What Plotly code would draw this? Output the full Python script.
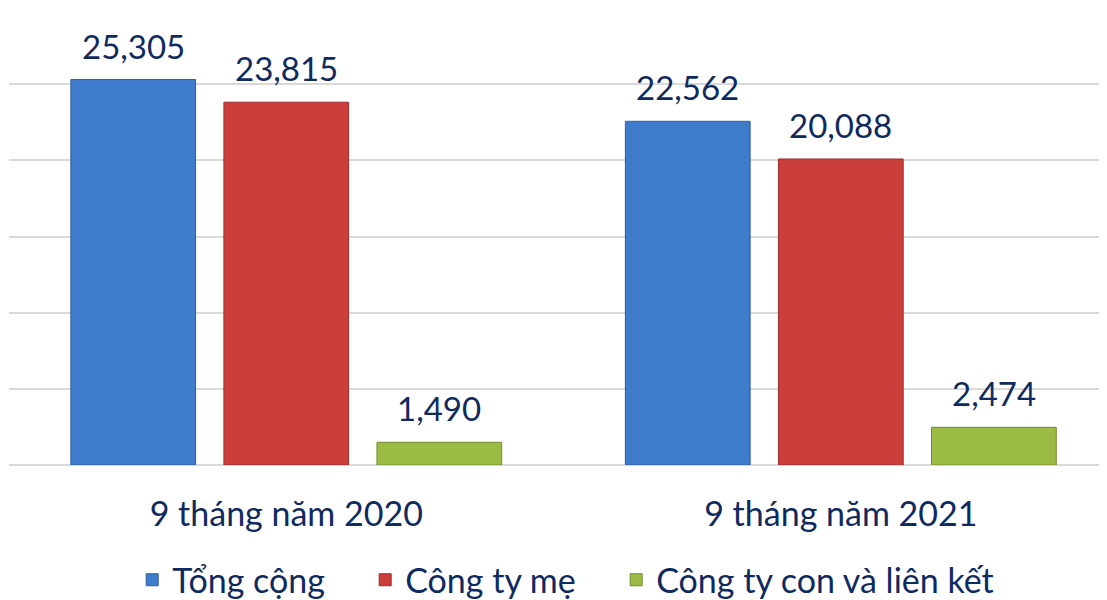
import plotly.graph_objects as go

categories = ["9 tháng năm 2020", "9 tháng năm 2021"]
series_names = ["Tổng cộng", "Công ty mẹ", "Công ty con và liên kết"]
tong_cong = [25305, 22562]
cong_ty_me = [23815, 20088]
cong_ty_con = [1490, 2474]

colors = ["#3e7bca", "#cc3e3b", "#9bbb45"]
edges = ["#2f5f9f", "#9a2e2b", "#6f8a2e"]
LEGEND_ITEM_W = [188, 206, 0]
text_color = "#0f2a5f"
font_family = "Lato, 'Open Sans', sans-serif"

# the page body adds an 8px margin, so the figure is 8px smaller each way
FIG_W, FIG_H = 1099, 592
M_L, M_R, M_T, M_B = 1, 0, 0, 135
BARGAP = 0.172
BARGROUPGAP = 0.185
X_RANGE = [-0.5, 1.48]
px_per_unit = (FIG_W - M_L - M_R) / (X_RANGE[1] - X_RANGE[0])
slot = (1 - BARGAP) / 3

fig = go.Figure()
all_series = [tong_cong, cong_ty_me, cong_ty_con]
for i, (name, vals, c, e) in enumerate(zip(series_names, all_series, colors, edges)):
    fig.add_trace(go.Bar(
        x=categories, y=vals, name=name,
        marker=dict(color=c, line=dict(color=e, width=1)),
        cliponaxis=False,
        legendwidth=LEGEND_ITEM_W[i] if LEGEND_ITEM_W[i] else None,
    ))
    for cat, v in zip(categories, vals):
        fig.add_annotation(
            x=cat, y=v, xref="x", yref="y", text=f"{v:,}", showarrow=False,
            xanchor="center", yanchor="bottom",
            xshift=(i - 1) * slot * px_per_unit, yshift=12,
            font=dict(size=33, color=text_color, family=font_family),
        )

fig.update_layout(
    width=FIG_W, height=FIG_H,
    margin=dict(l=M_L, r=M_R, t=M_T, b=M_B, autoexpand=False),
    paper_bgcolor="white", plot_bgcolor="white",
    barmode="group", bargap=BARGAP, bargroupgap=BARGROUPGAP,
    font=dict(family=font_family, color=text_color),
    showlegend=True,
    legend=dict(orientation="h", x=0.507, xanchor="center", y=-0.252, yanchor="middle",
                font=dict(size=34, color=text_color, family=font_family),
                itemwidth=30, tracegroupgap=0),
    xaxis=dict(range=X_RANGE, showgrid=False, showline=False, zeroline=False, automargin=False,
               ticks="", tickfont=dict(size=34, color=text_color, family=font_family),
               ticklabelstandoff=26),
    yaxis=dict(range=[0, 30000], dtick=5000, showgrid=True, gridcolor="#d9d9d9", gridwidth=2,
               showticklabels=False, zeroline=True, zerolinecolor="#d9d9d9", zerolinewidth=2,
               ticks="", automargin=False),
)

fig.write_html("out.html")
